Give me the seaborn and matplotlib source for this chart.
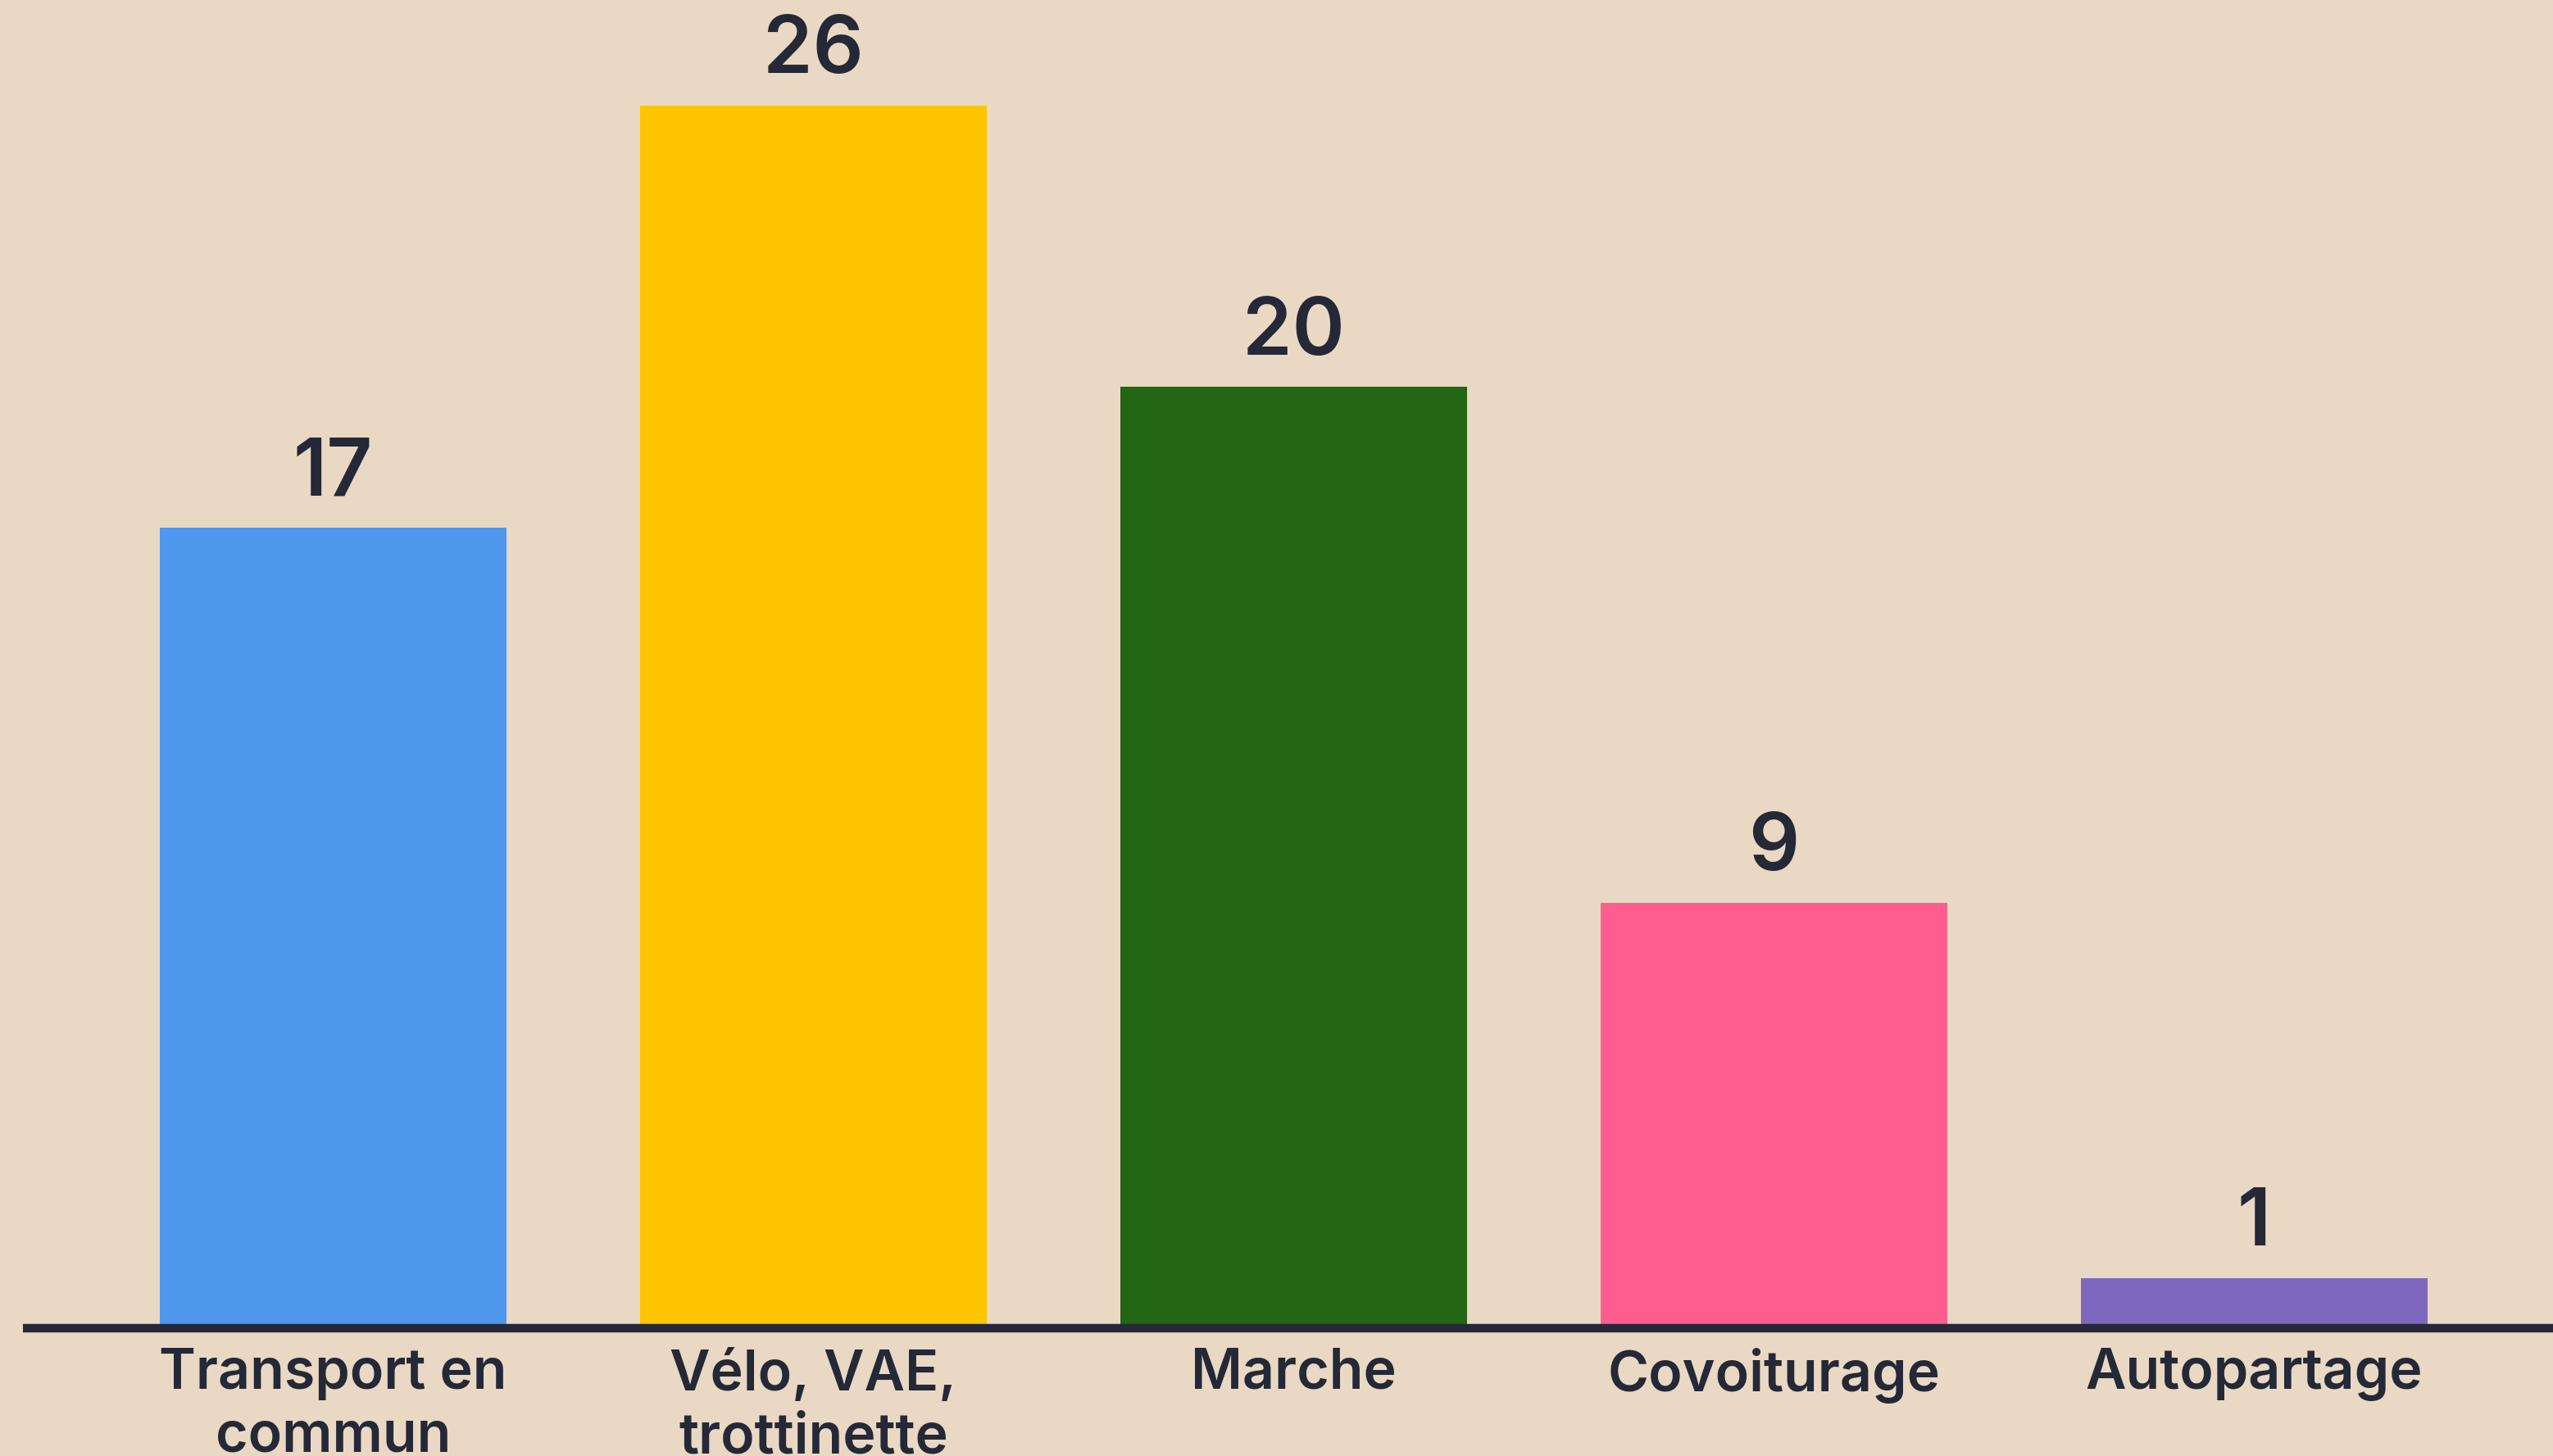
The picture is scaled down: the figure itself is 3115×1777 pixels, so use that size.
import numpy as np
import pandas as pd
import matplotlib
matplotlib.use("Agg")
import matplotlib.pyplot as plt
import seaborn as sns

# données du graphique
modes = ["Transport en\ncommun", "Vélo, VAE,\ntrottinette", "Marche", "Covoiturage", "Autopartage"]
valeurs = [17, 26, 20, 9, 1]
couleurs = ["#4F98EE", "#FFC500", "#236613", "#FF5C8F", "#7E68BF"]

fond = "#E9D8C3"
encre = "#252836"

df = pd.DataFrame({"mode": modes, "valeur": valeurs})

sns.set_theme(style="white")
plt.rcParams['font.family'] = ['Inter', 'DejaVu Sans']

fig = plt.figure(figsize=(31.15, 17.77), dpi=100, facecolor=fond)
ax = fig.add_axes([0.0089, 0.090, 0.9911, 0.910])
ax.set_facecolor(fond)

sns.barplot(data=df, x="mode", y="valeur", hue="mode", palette=couleurs,
            width=0.722, saturation=1, linewidth=0, legend=False, ax=ax)

# valeurs au-dessus des barres
for c in ax.containers:
    ax.bar_label(c, padding=14, fontsize=70, fontweight="semibold", color=encre)

# ligne de base (juste sous les barres)
ax.axhline(-0.06, color=encre, linewidth=7.5, zorder=1, clip_on=False,
           solid_capstyle="butt")

ax.set_xlim(-0.646, 4.622)
ax.set_ylim(0, 28.25)
ax.set_xlabel("")
ax.set_ylabel("")
ax.set_yticks([])
ax.tick_params(axis="x", length=0, pad=20)
for lab in ax.get_xticklabels():
    lab.set_fontsize(49)
    lab.set_fontweight("semibold")
    lab.set_color(encre)
    lab.set_linespacing(1.25)
sns.despine(ax=ax, left=True, bottom=True)

# comme sur l'original, la seconde ligne des libellés est coupée en bas
plt.savefig("out.png", dpi=100, facecolor=fond)
